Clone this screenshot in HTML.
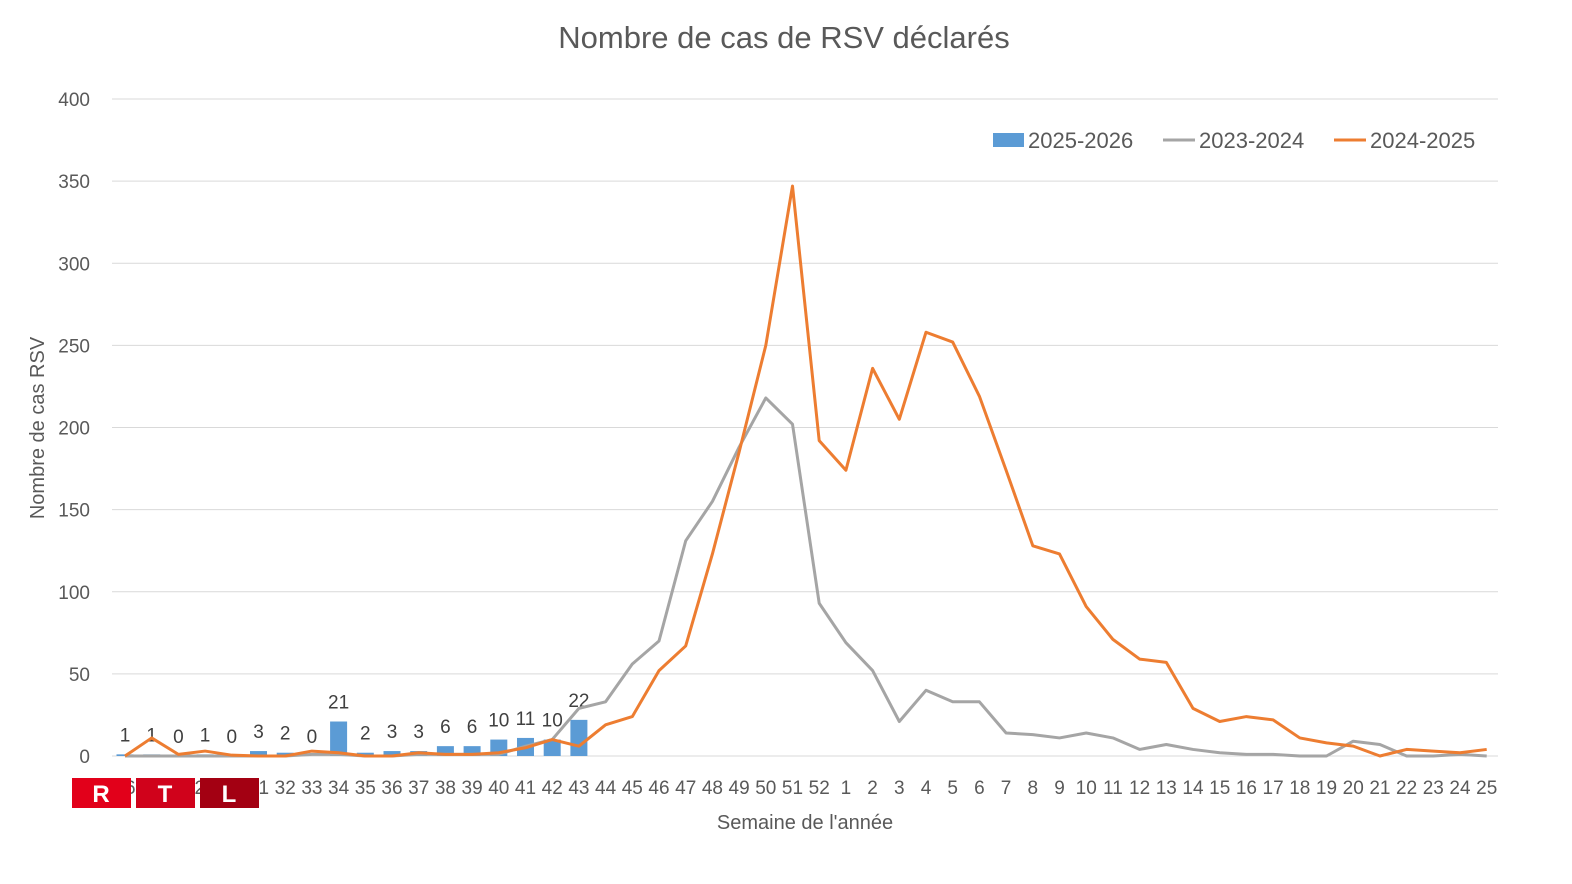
<!DOCTYPE html><html><head><meta charset="utf-8"><style>body{margin:0;background:#fff}svg{display:block;font-family:"Liberation Sans",sans-serif}</style></head><body>
<svg id="s" width="1572" height="884" xmlns="http://www.w3.org/2000/svg">
<text x="784" y="48" text-anchor="middle" font-size="31" fill="#595959">Nombre de cas de RSV déclarés</text>
<text transform="translate(44,428) rotate(-90)" text-anchor="middle" font-size="20" fill="#595959">Nombre de cas RSV</text>
<text x="805" y="829" text-anchor="middle" font-size="20" fill="#595959">Semaine de l'année</text>
<rect x="993" y="133" width="31" height="14" fill="#5b9bd5"/><text x="1028" y="148" font-size="22" fill="#595959">2025-2026</text>
<line x1="1163" y1="140" x2="1195" y2="140" stroke="#a5a5a5" stroke-width="3"/><text x="1199" y="148" font-size="22" fill="#595959">2023-2024</text>
<line x1="1334" y1="140" x2="1366" y2="140" stroke="#ed7d31" stroke-width="3"/><text x="1370" y="148" font-size="22" fill="#595959">2024-2025</text>
<g id="g"></g>
<rect x="72" y="778" width="59" height="30" fill="#e2001a"/><text x="101" y="802" text-anchor="middle" font-size="24" font-weight="bold" fill="#fff">R</text>
<rect x="136" y="778" width="59" height="30" fill="#d0021b"/><text x="165" y="802" text-anchor="middle" font-size="24" font-weight="bold" fill="#fff">T</text>
<rect x="200" y="778" width="59" height="30" fill="#a30012"/><text x="229" y="802" text-anchor="middle" font-size="24" font-weight="bold" fill="#fff">L</text>
</svg>
<script>
var g=document.getElementById('g'),h='';
function Y(v){return 756-v*1.6425}function X(i){return 125+i*26.7}
for(var v=0;v<=400;v+=50){var y=Y(v);h+='<line x1="112" x2="1498" y1="'+y+'" y2="'+y+'" stroke="#d9d9d9"/><text x="90" y="'+(y+7)+'" text-anchor="end" font-size="19" fill="#595959">'+v+'</text>';}
var wk=[];for(var w=26;w<=52;w++)wk.push(w);for(w=1;w<=25;w++)wk.push(w);
wk.forEach(function(w,i){h+='<text x="'+X(i)+'" y="794" text-anchor="middle" font-size="19" fill="#595959">'+w+'</text>';});
var bars=[1,1,0,1,0,3,2,0,21,2,3,3,6,6,10,11,10,22];
bars.forEach(function(b,i){h+='<rect x="'+(X(i)-8.5)+'" y="'+Y(b)+'" width="17" height="'+(b*1.6425)+'" fill="#5b9bd5"/><text x="'+X(i)+'" y="'+(Y(b)-13)+'" text-anchor="middle" font-size="19" fill="#404040">'+b+'</text>';});
var gr=[0,0,0,0,0,0,0,1,1,0,0,1,1,1,1,6,10,29,33,56,70,131,155,188,218,202,93,69,52,21,40,33,33,14,13,11,14,11,4,7,4,2,1,1,0,0,9,7,0,0,1,0];
var or=[0,11,1,3,0.5,0,0,3,2,0,0,2,1,1,2,5,10,6,19,24,52,67,123,185,250,347,192,174,236,205,258,252,219,174,128,123,91,71,59,57,29,21,24,22,11,8,6,0,4,3,2,4];
function pl(a,c){return '<polyline fill="none" stroke="'+c+'" stroke-width="3" stroke-linejoin="round" points="'+a.map(function(v,i){return X(i)+','+Y(v)}).join(' ')+'"/>';}
h+=pl(gr,'#a5a5a5')+pl(or,'#ed7d31');
g.innerHTML=h;
</script>
</body></html>
